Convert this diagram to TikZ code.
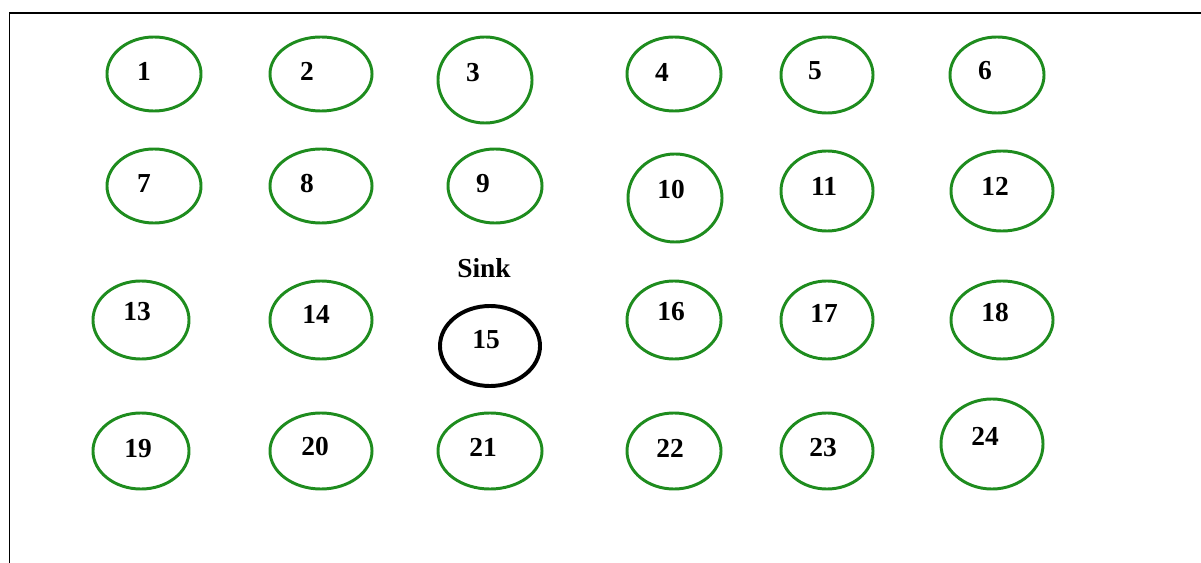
\documentclass[tikz,border=0pt]{standalone}
\usepackage{fontspec}
\setmainfont{Liberation Serif}
\usetikzlibrary{shapes.geometric}
\definecolor{NodeGreen}{HTML}{1E8C1E}

\begin{document}
\begin{tikzpicture}[x=0.025cm,y=-0.025cm,
    sensor/.style={ellipse, draw=NodeGreen, line width=2.1pt, inner sep=0pt},
    sinknode/.style={ellipse, draw=black, line width=2.8pt, inner sep=0pt},
    lbl/.style={font=\fontsize{19.5}{22}\selectfont\bfseries, inner sep=0pt}]
  \useasboundingbox (0,0) rectangle (1201,563);
  % frame
  \draw[line width=1.4pt] (1201,13) -- (9.5,13) -- (9.5,563);
  % field nodes: number / centre / half axes / label position
  \foreach \n/\x/\y/\rx/\ry/\lx/\ly in {
      1/154/74/47/37/144/71, 2/321/74/51/37/307/71, 3/485/80/47/43/473/73,
      4/674/74/47/37/662/72, 5/827/75/46/38/815/71, 6/997/75/47/38/985/71,
      7/154/186/47/37/144/184, 8/321/186/51/37/307/184, 9/495/186/47/37/483/184,
      10/675/198/47/44/671/190, 11/827/191/46/40/824/186, 12/1002/191/51/40/995/186,
      13/141/320/48/39/137/312, 14/321/320/51/39/316/314,
      16/674/320/47/39/671/312, 17/827/320/46/39/824/313, 18/1002/320/51/39/995/313,
      19/141/451/48/38/138/449, 20/321/451/51/38/315/447, 21/490/451/52/38/483/447,
      22/674/451/47/38/670/448, 23/827/451/46/38/823/448, 24/992/444/51/45/985/436}{
    \node[sensor, minimum width=\rx*0.05cm, minimum height=\ry*0.05cm] (s\n) at (\x,\y) {};
    \node[lbl] (t\n) at (\lx,\ly) {\n};
  }
  % sink
  \node[sinknode, minimum width=2.5cm, minimum height=2.0cm] (s15) at (490,346) {};
  \node[lbl] (t15) at (486,340) {15};
  \node[lbl] (sinklbl) at (484,268) {Sink};
\end{tikzpicture}
\end{document}
